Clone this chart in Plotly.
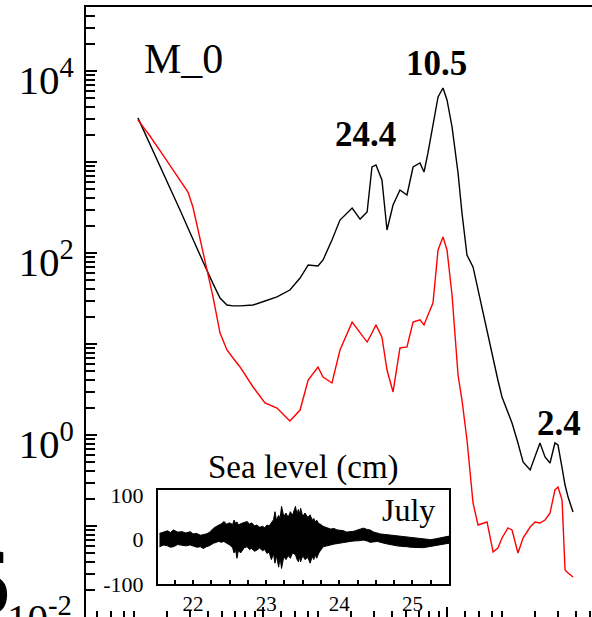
import plotly.graph_objects as go

# ---- main spectrum data (frequency in cycles/hour) ----
freq_cph = [0.00209, 0.00243, 0.00293, 0.00354, 0.00391, 0.00416, 0.00472, 0.00535, 0.00584, 0.00637,
            0.00687, 0.00750, 0.00883, 0.01025, 0.01191, 0.0140, 0.0159, 0.0176, 0.0199, 0.0212,
            0.0237, 0.0262, 0.0305, 0.0337, 0.0368, 0.0391, 0.0411, 0.0443, 0.0472, 0.0509,
            0.0555, 0.0606, 0.0654, 0.0713, 0.0750, 0.0788, 0.0839, 0.0894, 0.0951, 0.100,
            0.1065, 0.1148, 0.1206, 0.1284, 0.1385, 0.1474, 0.165, 0.178, 0.189, 0.199,
            0.2145, 0.2256, 0.243, 0.259, 0.283, 0.301, 0.320, 0.341, 0.363, 0.386,
            0.401, 0.422, 0.438, 0.455, 0.484]

spec_black = [3050, 1580, 684, 297, 188, 140, 80.2, 46.1, 32.0, 26.8,
              26.2, 26.2, 26.8, 29.7, 32.9, 39.2, 53.1, 73.8, 72.0, 83.8,
              139, 230, 312, 236, 282, 881, 927, 634, 179, 337,
              492, 434, 881, 975, 776, 1256, 2425, 5180, 6500, 4800,
              2425, 757, 275, 95.1, 70.2, 39.2, 13.2, 6.67, 4.02, 2.62,
              1.745, 1.355, 0.817, 0.505, 0.413, 0.573, 0.817, 0.573, 0.492, 0.817,
              0.776, 0.434, 0.282, 0.208, 0.1425]

spec_red = [2900, 1930, 1110, 634, 468, 320, 100, 32.9, 13.2, 8.59,
            7.02, 5.59, 3.37, 2.25, 1.98, 1.425, 1.88, 4.02, 5.59, 4.34,
            3.73, 8.59, 17.4, 13.2, 10.5, 13.2, 16.2, 11.9, 5.18, 2.97,
            9.04, 9.27, 17.4, 18.4, 16.2, 20.8, 28.2, 108, 150, 108,
            34.5, 4.56, 2.42, 0.881, 0.179, 0.1026, 0.1107, 0.0518, 0.0573, 0.0738,
            0.0951, 0.0904, 0.0505, 0.0738, 0.0975, 0.1107, 0.1079, 0.1164, 0.139, 0.249,
            0.268, 0.193, 0.0328, 0.0305, 0.0275]

# ---- inset: sea level envelope (day of July, cm) ----
sl_day = [21.54, 21.60, 21.65, 21.69, 21.73, 21.79, 21.85, 21.90, 21.96, 22.00,
          22.05, 22.10, 22.14, 22.18, 22.22, 22.28, 22.32, 22.35, 22.39, 22.42,
          22.46, 22.50, 22.54, 22.56, 22.58, 22.60, 22.62, 22.65, 22.70, 22.74,
          22.77, 22.80, 22.84, 22.87, 22.91, 22.95, 22.98, 23.01, 23.04, 23.07,
          23.10, 23.12, 23.14, 23.17, 23.19, 23.21, 23.24, 23.27, 23.30, 23.33,
          23.36, 23.40, 23.42, 23.44, 23.46, 23.47, 23.50, 23.53, 23.57, 23.60,
          23.63, 23.65, 23.67, 23.69, 23.72, 23.74, 23.78, 23.83, 23.88, 23.93,
          23.97, 24.02, 24.06, 24.10, 24.15, 24.20, 24.25, 24.30, 24.33, 24.38,
          24.42, 24.47, 24.52, 24.56, 24.61, 24.66, 24.70, 24.75, 24.79, 24.84,
          24.88, 24.93, 24.97, 25.02, 25.06, 25.11, 25.15, 25.20, 25.25, 25.32,
          25.38, 25.44, 25.50]
sl_upper = [14, 18, 20, 16, 22, 17, 18, 15, 18, 13,
            14, 10, 11, 13, 16, 26, 30, 33, 36, 41,
            35, 38, 34, 44, 37, 40, 33, 36, 39, 41,
            35, 38, 31, 33, 28, 30, 27, 33, 31, 38,
            45, 63, 44, 55, 48, 75, 52, 60, 50, 63,
            55, 75, 58, 68, 57, 71, 52, 60, 50, 56,
            44, 48, 40, 44, 36, 35, 30, 27, 24, 25,
            22, 21, 20, 17, 18, 19, 22, 24, 26, 23,
            22, 17, 14, 13, 12, 11, 10, 9, 8, 8,
            7, 6, 5, 4, 3, 3, 2, 1, 0, 2,
            4, 6, 8]
sl_lower = [-16, -12, -14, -17, -16, -11, -12, -14, -12, -15,
            -17, -16, -20, -16, -14, -8, -6, -4, -6, -4,
            -8, -12, -18, -30, -22, -42, -24, -30, -18, -16,
            -22, -20, -26, -24, -19, -25, -22, -31, -28, -45,
            -32, -53, -36, -62, -40, -65, -38, -45, -36, -42,
            -30, -34, -44, -50, -38, -50, -36, -45, -40, -53,
            -38, -45, -34, -42, -30, -25, -16, -14, -12, -10,
            -8, -8, -6, -5, -4, -3, -2, -2, -1, -3,
            -6, -5, -4, -6, -8, -10, -12, -13, -14, -15,
            -16, -16, -17, -18, -18, -18, -18, -17, -16, -14,
            -12, -10, -8]

# ---- tick definitions ----
y_major = [1e-2, 1e-1, 1, 10, 100, 1e3, 1e4]
y_major_text = ["", "", "10<sup>0</sup>", "", "10<sup>2</sup>", "", "10<sup>4</sup>"]
y_bottom_label = "10<sup>-2</sup>"
y_bottom_value = 1e-2
y_minor = [m * 10.0 ** e for e in range(-2, 5) for m in range(2, 10) if m * 10.0 ** e <= 5e4]
x_major = [1e-3, 1e-2, 1e-1]
x_minor = [m * 10.0 ** e for e in range(-3, 0)
           for m in [1.25, 1.5, 1.75, 2, 3, 4, 5, 6, 7, 8, 9]]
inset_days = [22, 23, 24, 25]
inset_days_text = ["22", "23", "24", "25"]
inset_minor = [21.75, 22.25, 22.5, 22.75, 23.25, 23.5, 23.75, 24.25, 24.5, 24.75, 25.25]
inset_y = [-100, 0, 100]
inset_y_text = ["-100", "0", "100"]

SERIF = "Liberation Serif"

fig = go.Figure()
fig.add_trace(go.Scatter(x=freq_cph, y=spec_black, mode="lines",
                         line=dict(color="black", width=1.4), showlegend=False))
fig.add_trace(go.Scatter(x=freq_cph, y=spec_red, mode="lines",
                         line=dict(color="#ff0000", width=1.4), showlegend=False))
fig.add_trace(go.Scatter(x=sl_day + sl_day[::-1], y=sl_upper + sl_lower[::-1],
                         fill="toself", fillcolor="black", mode="lines",
                         line=dict(color="black", width=1),
                         xaxis="x2", yaxis="y2", showlegend=False))

fig.update_layout(
    width=592, height=617,
    margin=dict(l=86, r=0, t=7, b=0, autoexpand=False),
    paper_bgcolor="white", plot_bgcolor="white",
    xaxis=dict(type="log", range=[-2.962, -0.212], domain=[0, 1], anchor="y",
               automargin=False,
               showline=True, mirror=True, linecolor="black", linewidth=2,
               showgrid=False, zeroline=False, showticklabels=False,
               tickmode="array", tickvals=x_major, ticks="inside", ticklen=10,
               tickwidth=1.5, tickcolor="black",
               minor=dict(tickmode="array", tickvals=x_minor, ticks="inside",
                          ticklen=6, tickwidth=1.5, tickcolor="black", showgrid=False)),
    yaxis=dict(type="log", range=[-2, 4.703], domain=[0, 1], anchor="x",
               automargin=False,
               showline=True, mirror=False, linecolor="black", linewidth=2,
               showgrid=False, zeroline=False,
               tickmode="array", tickvals=y_major, ticktext=y_major_text,
               ticks="inside", ticklen=11, tickwidth=2, tickcolor="black",
               ticklabelstandoff=2, ticklabelshift=9, ticklabeloverflow="allow",
               tickfont=dict(family=SERIF, size=41, color="black"),
               minor=dict(tickmode="array", tickvals=y_minor, ticks="inside",
                          ticklen=9, tickwidth=2, tickcolor="black", showgrid=False)),
    xaxis2=dict(domain=[0.1423, 0.7174], anchor="y2", range=[21.52, 25.5],
                automargin=False,
                showline=True, mirror=True, linecolor="black", linewidth=2,
                showgrid=False, zeroline=False,
                tickmode="array", tickvals=inset_days, ticktext=inset_days_text,
                ticks="inside", ticklen=4, tickwidth=1.5, tickcolor="black",
                tickfont=dict(family=SERIF, size=21, color="black"),
                minor=dict(tickmode="array", tickvals=inset_minor, ticks="inside",
                           ticklen=4, tickwidth=1.5, tickcolor="black", showgrid=False)),
    yaxis2=dict(domain=[0.0541, 0.2082], anchor="x2", range=[-100, 112],
                automargin=False,
                showline=True, mirror=True, linecolor="black", linewidth=2,
                showgrid=False, zeroline=False,
                tickmode="array", tickvals=inset_y, ticktext=inset_y_text,
                ticks="", ticklabelstandoff=8,
                tickfont=dict(family=SERIF, size=22, color="black")),
)

# bottom decade label (sits at the cropped lower edge of the figure)
fig.add_annotation(text=y_bottom_label, x=-0.0237, y=-2, xref="paper", yref="y",
                   xanchor="right", yanchor="middle", yshift=2, showarrow=False,
                   font=dict(family=SERIF, size=41, color="black"))

ann = [
    dict(text="M_0", x=0.1917, y=0.9148, size=42),
    dict(text="<b>24.4</b>", x=0.5514, y=0.7918, size=35),
    dict(text="<b>10.5</b>", x=0.6917, y=0.9066, size=35),
    dict(text="<b>2.4</b>", x=0.9348, y=0.3180, size=35),
    dict(text="Sea level (cm)", x=0.4298, y=0.2459, size=33),
    dict(text="July", x=0.6364, y=0.1754, size=32),
]
for a in ann:
    fig.add_annotation(text=a["text"], x=a["x"], y=a["y"], xref="paper", yref="paper",
                       xanchor="center", yanchor="middle", showarrow=False,
                       font=dict(family=SERIF, size=a["size"], color="black"))

fig.add_annotation(text="6", x=-0.146, y=0.058, xref="paper", yref="paper",
                   xanchor="right", yanchor="middle", showarrow=False,
                   font=dict(family=SERIF, size=96, color="black"))

fig.write_html("out.html")
